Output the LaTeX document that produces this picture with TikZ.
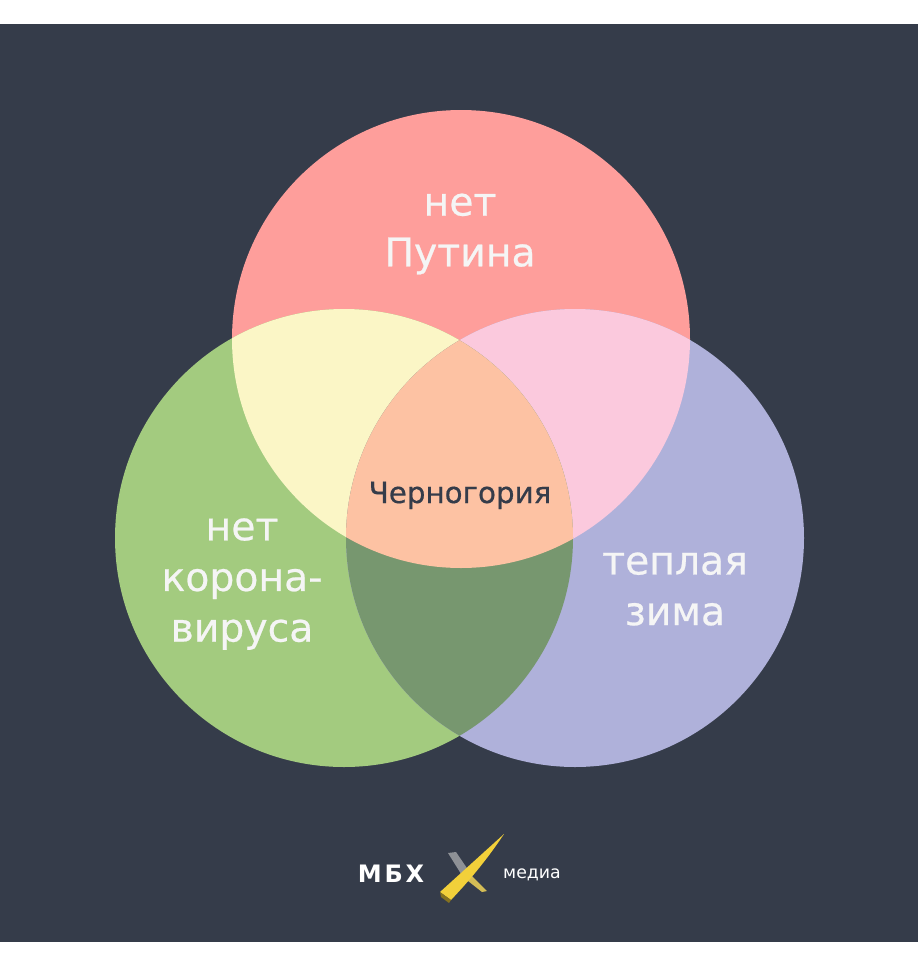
\documentclass[tikz,border=0pt]{standalone}
\usepackage{fontspec}
\setmainfont{DejaVu Sans}
\definecolor{bgdark}{HTML}{353C4A}
\definecolor{ctop}{HTML}{FE9E9B}
\definecolor{cleft}{HTML}{A3CB7F}
\definecolor{cright}{HTML}{AFB1DA}
\definecolor{ctl}{HTML}{FBF6C6}
\definecolor{ctr}{HTML}{FBC9DD}
\definecolor{clr}{HTML}{77976F}
\definecolor{cmid}{HTML}{FDC2A3}
\definecolor{logoy}{HTML}{F2D03A}
\definecolor{logog}{HTML}{8E9196}
\tikzset{
  bigtext/.style={text=white!96!black,align=center,inner sep=0pt,font=\fontsize{29.5}{38}\selectfont\addfontfeatures{FakeBold=0.6}},
  logotext/.style={text=white,inner sep=0pt,anchor=base}
}
\newcommand{\ctopc}{(461,339) circle (229)}
\newcommand{\cleftc}{(344,538) circle (229)}
\newcommand{\crightc}{(575,538) circle (229)}
\begin{document}
\begin{tikzpicture}[x=0.75pt,y=-0.75pt]
\useasboundingbox (0,0) rectangle (918,960);
\fill[white] (0,0) rectangle (918,960);
\fill[bgdark] (0,24) rectangle (918,942);
\fill[ctop] \ctopc;
\fill[cleft] \cleftc;
\fill[cright] \crightc;
\begin{scope}\clip \ctopc; \fill[ctl] \cleftc; \fill[ctr] \crightc; \end{scope}
\begin{scope}\clip \cleftc; \fill[clr] \crightc; \end{scope}
\begin{scope}\clip \ctopc; \clip \cleftc; \fill[cmid] \crightc; \end{scope}
\node[bigtext] (top) at (460,234) {нет\\Путина};
\node[bigtext] (left) at (242,584) {нет\\корона-\\вируса};
\node[bigtext] (right) at (675,589) {теплая\\зима};
\node[text=bgdark,inner sep=0pt,anchor=base,font=\fontsize{22}{26}\selectfont\addfontfeatures{FakeBold=0.5}] (mid) at (460,503) {Черногория};
\node[logotext,font=\bfseries\fontsize{18}{22}\selectfont\addfontfeatures{LetterSpace=12}] (mbx) at (391,882) {МБХ};
\node[logotext,font=\fontsize{13}{15}\selectfont] (media) at (532,878) {медиа};
% logo mark
\fill[logog] (448,853) -- (456,852) -- (473,877) -- (463,877) -- cycle;
\fill[logoy!70!logog] (463,877) -- (473,877) -- (487,891) -- (482,892) -- cycle;
\fill[logoy] (440,892) -- (504,834) .. controls (484,864) and (466,884) .. (451,900) -- cycle;
\fill[logoy!55!black] (440,892) -- (451,900) -- (449,903) -- (441,897) -- cycle;
\end{tikzpicture}
\end{document}
